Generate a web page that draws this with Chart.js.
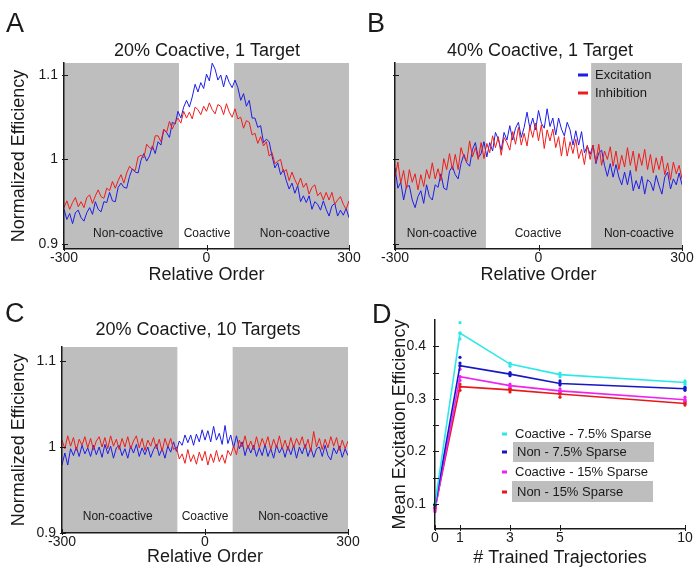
<!DOCTYPE html>
<html>
<head>
<meta charset="utf-8">
<script src="https://cdn.jsdelivr.net/npm/chart.js@4.4.1/dist/chart.umd.min.js"></script>
<style>
html, body { margin: 0; padding: 0; background: #fff; }
#wrap { position: relative; width: 697px; height: 576px; overflow: hidden; }
#wrap canvas { position: absolute; left: 0; top: 0; }
</style>
</head>
<body>
<div id="wrap">
  <canvas id="cA" width="697" height="576"></canvas>
  <canvas id="cB" width="697" height="576"></canvas>
  <canvas id="cC" width="697" height="576"></canvas>
  <canvas id="cD" width="697" height="576"></canvas>
</div>
<script>
// relative order axis, sampled every 6 positions from -300 to 300
const relOrder = Array.from({length: 101}, (_, i) => -300 + 6 * i);

// panel A: 20% coactive, 1 target
const aExc = [
  0.941, 0.929, 0.936, 0.924, 0.937, 0.940, 0.931, 0.927, 0.937, 0.943,
  0.935, 0.950, 0.941, 0.938, 0.950, 0.949, 0.961, 0.951, 0.950, 0.967,
  0.972, 0.967, 0.966, 0.980, 0.989, 0.985, 0.984, 0.999, 1.007, 0.998,
  1.004, 1.016, 1.007, 1.021, 1.017, 1.035, 1.032, 1.026, 1.044, 1.042,
  1.057, 1.049, 1.062, 1.070, 1.062, 1.074, 1.089, 1.080, 1.091, 1.084,
  1.101, 1.093, 1.114, 1.107, 1.094, 1.100, 1.086, 1.100, 1.091, 1.085,
  1.094, 1.085, 1.070, 1.078, 1.063, 1.070, 1.049, 1.049, 1.038, 1.040,
  1.020, 1.024, 1.021, 1.004, 0.990, 0.996, 0.982, 0.988, 0.975, 0.965,
  0.972, 0.960, 0.969, 0.950, 0.957, 0.949, 0.957, 0.941, 0.950, 0.947,
  0.940, 0.951, 0.941, 0.933, 0.945, 0.948, 0.933, 0.940, 0.934, 0.942,
  0.931
];
const aInh = [
  0.943, 0.951, 0.941, 0.949, 0.955, 0.944, 0.950, 0.943, 0.955, 0.958,
  0.948, 0.957, 0.964, 0.956, 0.954, 0.966, 0.963, 0.974, 0.966, 0.975,
  0.982, 0.972, 0.984, 0.992, 0.988, 0.987, 1.003, 1.005, 1.002, 1.018,
  1.014, 1.012, 1.028, 1.028, 1.021, 1.036, 1.032, 1.045, 1.036, 1.044,
  1.049, 1.043, 1.057, 1.049, 1.056, 1.048, 1.062, 1.059, 1.053, 1.063,
  1.057, 1.067, 1.059, 1.054, 1.065, 1.063, 1.053, 1.066, 1.056, 1.050,
  1.060, 1.048, 1.050, 1.037, 1.046, 1.044, 1.029, 1.031, 1.019, 1.027,
  1.016, 1.021, 1.004, 1.008, 0.995, 0.998, 1.000, 0.985, 0.988, 0.975,
  0.985, 0.976, 0.969, 0.978, 0.967, 0.972, 0.959, 0.967, 0.970, 0.957,
  0.961, 0.952, 0.961, 0.952, 0.961, 0.947, 0.952, 0.956, 0.947, 0.941,
  0.951
];

// panel B: 40% coactive, 1 target
const bExc = [
  0.990, 0.966, 0.973, 0.952, 0.968, 0.969, 0.952, 0.943, 0.956, 0.963,
  0.948, 0.970, 0.956, 0.952, 0.970, 0.967, 0.983, 0.966, 0.964, 0.986,
  0.992, 0.982, 0.977, 0.995, 1.006, 0.996, 0.992, 1.012, 1.020, 1.002,
  1.007, 1.021, 1.003, 1.020, 1.010, 1.032, 1.024, 1.011, 1.032, 1.023,
  1.040, 1.023, 1.037, 1.044, 1.026, 1.038, 1.056, 1.037, 1.049, 1.035,
  1.058, 1.043, 1.037, 1.060, 1.039, 1.049, 1.029, 1.049, 1.036, 1.028,
  1.044, 1.035, 1.017, 1.034, 1.017, 1.033, 1.008, 1.016, 1.006, 1.017,
  0.995, 1.008, 1.011, 0.993, 0.980, 0.995, 0.979, 0.994, 0.979, 0.970,
  0.985, 0.970, 0.987, 0.963, 0.975, 0.965, 0.980, 0.959, 0.976, 0.973,
  0.963, 0.981, 0.969, 0.959, 0.979, 0.985, 0.965, 0.977, 0.970, 0.984,
  0.970
];
const bInh = [
  0.979, 0.997, 0.972, 0.987, 0.965, 0.988, 0.973, 0.983, 0.964, 0.982,
  0.968, 0.988, 0.977, 0.996, 0.977, 0.989, 0.975, 1.001, 0.988, 1.007,
  0.988, 1.006, 0.988, 1.014, 1.003, 0.997, 1.022, 1.003, 1.014, 1.000,
  1.020, 1.001, 1.019, 1.008, 1.028, 1.014, 1.027, 1.005, 1.026, 1.020,
  1.011, 1.033, 1.018, 1.038, 1.017, 1.031, 1.016, 1.039, 1.026, 1.043,
  1.022, 1.041, 1.013, 1.035, 1.022, 1.036, 1.014, 1.027, 1.004, 1.027,
  1.004, 1.021, 1.007, 1.024, 1.001, 1.012, 0.994, 1.017, 1.000, 1.017,
  0.997, 1.018, 0.993, 1.010, 1.000, 1.015, 0.992, 1.010, 0.988, 1.005,
  0.991, 1.014, 0.993, 1.010, 0.986, 1.007, 0.993, 1.012, 0.988, 1.006,
  0.984, 1.002, 0.988, 1.004, 0.982, 0.996, 0.976, 0.997, 0.983, 0.993,
  0.977
];

// panel C: 20% coactive, 10 targets
const cExc = [
  0.979, 0.993, 0.979, 0.998, 0.990, 1.000, 0.989, 1.002, 0.992, 0.999,
  0.989, 1.002, 0.991, 1.000, 0.988, 1.003, 0.992, 1.001, 0.987, 0.999,
  1.002, 0.990, 0.998, 0.987, 1.001, 0.993, 1.003, 0.989, 0.999, 0.991,
  1.000, 0.988, 0.997, 1.003, 0.990, 0.998, 0.987, 1.001, 0.994, 1.006,
  0.995, 1.007, 1.002, 1.014, 1.005, 1.014, 1.002, 1.015, 1.006, 1.020,
  1.008, 1.019, 1.006, 1.024, 1.008, 1.016, 1.003, 1.025, 1.004, 1.014,
  0.999, 1.013, 0.998, 1.006, 0.990, 1.002, 0.993, 1.002, 0.989, 0.999,
  0.990, 1.003, 0.989, 0.998, 0.987, 1.002, 0.993, 1.000, 0.988, 1.001,
  0.991, 1.002, 0.987, 1.000, 0.992, 1.003, 0.989, 0.999, 0.988, 0.998,
  1.000, 0.989, 1.002, 0.990, 0.985, 0.999, 0.992, 1.001, 0.988, 0.998,
  0.990
];
const cInh = [
  1.008, 0.998, 1.013, 1.001, 1.011, 0.996, 1.009, 1.002, 1.012, 0.999,
  1.010, 0.997, 1.007, 1.012, 1.000, 1.011, 0.998, 1.013, 1.001, 1.009,
  0.997, 1.010, 1.000, 1.012, 0.998, 1.007, 1.013, 0.999, 1.010, 0.996,
  1.008, 1.001, 1.011, 0.998, 1.009, 0.995, 1.010, 1.000, 1.010, 0.997,
  1.000, 0.986, 0.992, 0.981, 0.997, 0.983, 0.991, 0.980, 0.994, 0.984,
  0.995, 0.979, 0.992, 0.982, 0.996, 0.983, 0.991, 0.981, 0.996, 0.990,
  1.001, 0.991, 1.008, 1.000, 1.013, 0.998, 1.007, 0.997, 1.012, 0.999,
  1.010, 1.001, 1.012, 0.997, 1.009, 0.999, 1.013, 0.998, 1.008, 0.996,
  1.011, 0.999, 1.010, 1.002, 1.012, 0.998, 1.009, 0.995, 1.018, 1.000,
  1.010, 0.997, 1.009, 0.999, 1.012, 1.001, 1.011, 0.996, 1.008, 0.998,
  1.007
];

// panel D: mean excitation efficiency vs # trained trajectories
const trained = [0, 1, 3, 5, 10];
const dCoact75 = [0.100, 0.425, 0.366, 0.346, 0.331];
const dNon75   = [0.097, 0.363, 0.347, 0.329, 0.319];
const dCoact15 = [0.088, 0.342, 0.325, 0.315, 0.298];
const dNon15   = [0.092, 0.323, 0.317, 0.309, 0.291];
const trialX        = [0, 1, 1, 3, 3, 5, 5, 10, 10];
const dCoact75Trial = [0.100, 0.445, 0.414, 0.368, 0.362, 0.349, 0.342, 0.334, 0.327];
const dNon75Trial   = [0.097, 0.379, 0.368, 0.350, 0.344, 0.334, 0.326, 0.322, 0.316];
const dCoact15Trial = [0.085, 0.356, 0.335, 0.328, 0.322, 0.319, 0.313, 0.303, 0.295];
const dNon15Trial   = [0.092, 0.328, 0.316, 0.320, 0.313, 0.313, 0.303, 0.295, 0.288];

const INK = '#1a1a1a';
const GRAY = '#bebebe';
const EXC = '#1d1de8';
const INH = '#f01c1c';
const CYAN = '#2ee8e8';
const NAVY = '#1616c8';
const MAG = '#f022f0';
const RED = '#e81818';
const FAM = "'Liberation Sans', Arial, Helvetica, sans-serif";

Chart.defaults.font.family = FAM;
Chart.defaults.color = INK;

function num(v) { return String(+Number(v).toFixed(2)); }

function zeroPad(s) { s.paddingLeft = 0; s.paddingRight = 0; s.paddingTop = 0; s.paddingBottom = 0; }

function xAxis(o) {
  return {
    type: 'linear', min: o.min, max: o.max,
    afterBuildTicks: s => { s.ticks = o.ticks.map(v => ({value: v})); },
    afterFit: s => { s.height = o.height; zeroPad(s); },
    grid: {display: false, drawTicks: false},
    border: {display: true, color: INK, width: 1.5, z: 1},
    ticks: {font: {size: 14}, color: INK, padding: 1, maxRotation: 0, autoSkip: false, z: 1,
            callback: v => num(v)},
    title: {display: true, text: o.title, font: {size: 18}, color: INK, padding: {top: 0, bottom: o.titlePad}}
  };
}

function yAxis(o) {
  return {
    type: 'linear', min: o.min, max: o.max,
    afterBuildTicks: s => { s.ticks = o.ticks.map(v => ({value: v})); },
    afterFit: s => { s.width = o.width; zeroPad(s); },
    grid: {display: false, drawTicks: false},
    border: {display: true, color: INK, width: 1.5, z: 1},
    ticks: {display: o.labels !== false, font: {size: 14}, color: INK, padding: o.labelPad, autoSkip: false, z: 1,
            callback: o.fmt || (v => num(v))},
    title: {display: !!o.title, text: o.title || '', font: {size: 18}, color: INK, padding: {top: o.titlePad || 0, bottom: 0}}
  };
}

function decor(cfg) {
  return {
    id: 'decor',
    beforeDatasetsDraw(chart) {
      const {ctx, chartArea: a} = chart, x = chart.scales.x;
      ctx.save();
      ctx.fillStyle = GRAY;
      (cfg.shade || []).forEach(r => {
        const p0 = x.getPixelForValue(r[0]), p1 = x.getPixelForValue(r[1]);
        ctx.fillRect(p0, a.top, p1 - p0, a.bottom - a.top);
      });
      ctx.restore();
    },
    afterDatasetsDraw(chart) {
      const {ctx, chartArea: a} = chart, x = chart.scales.x, y = chart.scales.y;
      ctx.save();
      ctx.fillStyle = INK;
      ctx.textAlign = 'center';
      ctx.textBaseline = 'alphabetic';
      ctx.font = '12px ' + FAM;
      (cfg.regions || []).forEach(r => ctx.fillText(r.text, x.getPixelForValue(r.at), cfg.regionY));

      // inward tick marks
      ctx.strokeStyle = INK;
      ctx.lineWidth = 1;
      ctx.beginPath();
      cfg.yMarks.forEach(v => {
        const p = Math.round(y.getPixelForValue(v)) + 0.5;
        ctx.moveTo(a.left - 2, p); ctx.lineTo(a.left + 4, p);
      });
      cfg.xMarks.forEach(v => {
        const p = Math.round(x.getPixelForValue(v)) + 0.5;
        ctx.moveTo(p, a.bottom + 2); ctx.lineTo(p, a.bottom - 4);
      });
      ctx.stroke();

      ctx.fillStyle = GRAY;
      (cfg.boxes || []).forEach(b => ctx.fillRect(b[0], b[1], b[2], b[3]));
      ctx.font = '13px ' + FAM;
      ctx.textAlign = 'left';
      ctx.textBaseline = 'middle';
      (cfg.legend || []).forEach(it => {
        ctx.fillStyle = it.color;
        ctx.fillRect(it.mx, it.cy - 1.5, it.mw, 3);
        ctx.fillStyle = INK;
        ctx.fillText(it.text, it.tx, it.cy);
      });
      ctx.restore();
    },
    afterDraw(chart) {
      const ctx = chart.ctx;
      ctx.save();
      ctx.fillStyle = INK;
      ctx.textBaseline = 'alphabetic';
      ctx.textAlign = 'left';
      ctx.font = '27px ' + FAM;
      ctx.fillText(cfg.letter[0], cfg.letter[1], cfg.letter[2]);
      ctx.textAlign = 'center';
      ctx.font = '18px ' + FAM;
      ctx.fillText(cfg.title[0], cfg.title[1], cfg.title[2]);
      ctx.restore();
    }
  };
}

function traceSets(exc, inh) {
  return [
    {label: 'Inhibition', data: relOrder.map((x, i) => ({x: x, y: inh[i]})), borderColor: INH, borderWidth: 1, pointRadius: 0},
    {label: 'Excitation', data: relOrder.map((x, i) => ({x: x, y: exc[i]})), borderColor: EXC, borderWidth: 1, pointRadius: 0}
  ];
}

function baseOptions(pad, scales) {
  return {
    responsive: false,
    animation: false,
    layout: {padding: pad},
    plugins: {legend: {display: false}, tooltip: {enabled: false}},
    elements: {line: {tension: 0}},
    scales: scales
  };
}

// A
new Chart(document.getElementById('cA'), {
  type: 'line',
  data: {datasets: traceSets(aExc, aInh)},
  options: baseOptions({left: 0, top: 63, right: 348, bottom: 286}, {
    x: xAxis({min: -300, max: 300, ticks: [-300, 0, 300], title: 'Relative Order', height: 41, titlePad: 4}),
    y: yAxis({min: 0.894, max: 1.1142, ticks: [0.9, 1, 1.1], width: 64, labelPad: 6, title: 'Normalized Efficiency', titlePad: 8})
  }),
  plugins: [decor({
    shade: [[-300, -58], [58, 300]],
    regions: [{text: 'Non-coactive', at: -165}, {text: 'Coactive', at: 1}, {text: 'Non-coactive', at: 186}],
    regionY: 237,
    yMarks: [0.9, 1, 1.1], xMarks: [-300, 0, 300],
    letter: ['A', 6, 32], title: ['20% Coactive, 1 Target', 207, 56]
  })]
});

// B
new Chart(document.getElementById('cB'), {
  type: 'line',
  data: {datasets: traceSets(bExc, bInh)},
  options: baseOptions({left: 350, top: 63, right: 15, bottom: 286}, {
    x: xAxis({min: -300, max: 300, ticks: [-300, 0, 300], title: 'Relative Order', height: 41, titlePad: 4}),
    y: yAxis({min: 0.894, max: 1.1142, ticks: [0.9, 1, 1.1], width: 45, labelPad: 6, labels: false})
  }),
  plugins: [decor({
    shade: [[-300, -110], [110, 300]],
    regions: [{text: 'Non-coactive', at: -202}, {text: 'Coactive', at: -1}, {text: 'Non-coactive', at: 210}],
    regionY: 237,
    yMarks: [0.9, 1, 1.1], xMarks: [-300, 0, 300],
    legend: [
      {text: 'Excitation', color: EXC, tx: 595, cy: 75, mx: 578, mw: 10},
      {text: 'Inhibition', color: INH, tx: 595, cy: 93, mx: 578, mw: 10}
    ],
    letter: ['B', 367, 32], title: ['40% Coactive, 1 Target', 540, 56]
  })]
});

// C
new Chart(document.getElementById('cC'), {
  type: 'line',
  data: {datasets: traceSets(cExc, cInh)},
  options: baseOptions({left: 0, top: 347, right: 349, bottom: 0}, {
    x: xAxis({min: -300, max: 300, ticks: [-300, 0, 300], title: 'Relative Order', height: 43, titlePad: 8}),
    y: yAxis({min: 0.9, max: 1.1163, ticks: [0.9, 1, 1.1], width: 62, labelPad: 6, title: 'Normalized Efficiency', titlePad: 8})
  }),
  plugins: [decor({
    shade: [[-300, -58], [58, 300]],
    regions: [{text: 'Non-coactive', at: -183}, {text: 'Coactive', at: 0}, {text: 'Non-coactive', at: 185}],
    regionY: 520,
    yMarks: [0.9, 1, 1.1], xMarks: [-300, 0, 300],
    letter: ['C', 5, 322], title: ['20% Coactive, 10 Targets', 198, 335]
  })]
});

// D
function meanSet(label, vals, color) {
  return {label: label, data: trained.map((x, i) => ({x: x, y: vals[i]})), borderColor: color, backgroundColor: color,
          borderWidth: 1.6, pointRadius: 1.8, pointBorderWidth: 0, clip: 6};
}
function trialSet(label, vals, color) {
  return {label: label, data: trialX.map((x, i) => ({x: x, y: vals[i]})), showLine: false, borderColor: color,
          backgroundColor: color, pointRadius: 1.6, pointBorderWidth: 0, clip: 6};
}
new Chart(document.getElementById('cD'), {
  type: 'line',
  data: {datasets: [
    meanSet('Coactive - 7.5% Sparse', dCoact75, CYAN),
    meanSet('Non - 7.5% Sparse', dNon75, NAVY),
    meanSet('Coactive - 15% Sparse', dCoact15, MAG),
    meanSet('Non - 15% Sparse', dNon15, RED),
    trialSet('c75', dCoact75Trial, CYAN),
    trialSet('n75', dNon75Trial, NAVY),
    trialSet('c15', dCoact15Trial, MAG),
    trialSet('n15', dNon15Trial, RED)
  ]},
  options: baseOptions({left: 380, top: 320, right: 12, bottom: 0}, {
    x: xAxis({min: 0, max: 10, ticks: [0, 1, 3, 5, 10], title: '# Trained Trajectories', height: 47, titlePad: 7}),
    y: yAxis({min: 0.052, max: 0.45, ticks: [0.1, 0.15, 0.2, 0.25, 0.3, 0.35, 0.4], width: 55, labelPad: 9,
              title: 'Mean Excitation Efficiency', titlePad: 9,
              fmt: v => (Math.abs(v * 10 - Math.round(v * 10)) < 1e-6 ? num(v) : '')})
  }),
  plugins: [decor({
    yMarks: [0.1, 0.15, 0.2, 0.25, 0.3, 0.35, 0.4], xMarks: [0, 1, 3, 5, 10],
    boxes: [[513, 442, 141, 20], [512, 481, 141, 21]],
    legend: [
      {text: 'Coactive - 7.5% Sparse', color: CYAN, tx: 515, cy: 434, mx: 502, mw: 5},
      {text: 'Non - 7.5% Sparse', color: NAVY, tx: 517, cy: 452, mx: 502, mw: 5},
      {text: 'Coactive - 15% Sparse', color: MAG, tx: 515, cy: 472, mx: 502, mw: 5},
      {text: 'Non - 15% Sparse', color: RED, tx: 517, cy: 492, mx: 502, mw: 5}
    ],
    letter: ['D', 372, 323], title: ['', 0, 0]
  })]
});
</script>
</body>
</html>
